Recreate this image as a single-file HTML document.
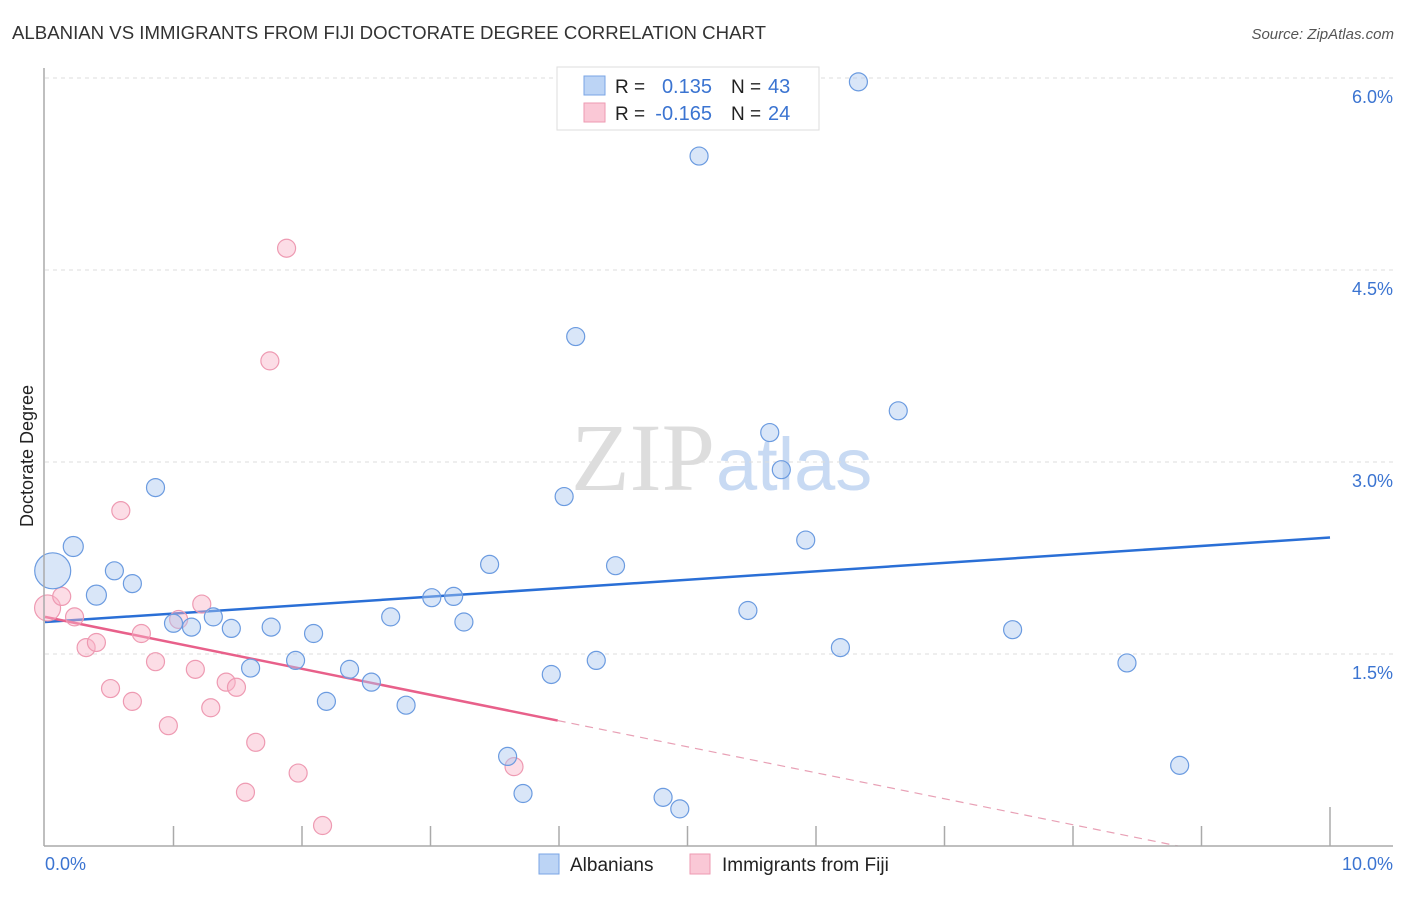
<!DOCTYPE html>
<html><head><meta charset="utf-8"><style>
body{margin:0;background:#fff;font-family:"Liberation Sans",sans-serif;}
svg text{font-family:"Liberation Sans",sans-serif;}
</style></head><body>
<svg id="c" width="1406" height="892" viewBox="0 0 1406 892">
<text x="12" y="39" font-size="18" fill="#333" textLength="754" lengthAdjust="spacingAndGlyphs">ALBANIAN VS IMMIGRANTS FROM FIJI DOCTORATE DEGREE CORRELATION CHART</text>
<text x="1394" y="39" font-size="15" fill="#555" font-style="italic" text-anchor="end">Source: ZipAtlas.com</text>
<text x="715" y="490" font-size="96" fill="#ddd" text-anchor="end" style="font-family:'Liberation Serif',serif">ZIP</text>
<text x="716" y="490" font-size="74" fill="#c8daf3">atlas</text>
<text transform="translate(33,456) rotate(-90)" font-size="18" fill="#222" text-anchor="middle">Doctorate Degree</text>
<g id="grid"></g><g id="ticks"></g><g id="lines"></g><g id="pts"></g>
<line x1="44" y1="68" x2="44" y2="846" stroke="#aaa" stroke-width="1.5"/>
<line x1="44" y1="846" x2="1393" y2="846" stroke="#aaa" stroke-width="1.5"/>
<text x="45" y="870" font-size="18" fill="#3b74d1">0.0%</text>
<text x="1393" y="870" font-size="18" fill="#3b74d1" text-anchor="end">10.0%</text>
<g>
<rect x="557" y="67" width="262" height="63" fill="#fff" stroke="#ddd"/>
<rect x="584" y="76" width="21" height="19" fill="#bcd4f5" stroke="#7aa5e5"/>
<rect x="584" y="103" width="21" height="19" fill="#fac8d6" stroke="#ee9ab2"/>
<text x="615" y="93" font-size="19" fill="#222">R =</text><text x="712" y="93" font-size="20" fill="#3b74d1" text-anchor="end">0.135</text>
<text x="731" y="93" font-size="19" fill="#222">N =</text><text x="768" y="93" font-size="20" fill="#3b74d1">43</text>
<text x="615" y="120" font-size="19" fill="#222">R =</text><text x="712" y="120" font-size="20" fill="#3b74d1" text-anchor="end">-0.165</text>
<text x="731" y="120" font-size="19" fill="#222">N =</text><text x="768" y="120" font-size="20" fill="#3b74d1">24</text>
</g>
<g>
<rect x="539" y="854" width="20" height="20" fill="#bcd4f5" stroke="#7aa5e5"/>
<text x="570" y="871" font-size="19" fill="#222">Albanians</text>
<rect x="690" y="854" width="20" height="20" fill="#fac8d6" stroke="#ee9ab2"/>
<text x="722" y="871" font-size="19" fill="#222">Immigrants from Fiji</text>
</g>
</svg>
<script>
const yTicks=[1.5,3.0,4.5,6.0];
const yTickLabels=["1.5%","3.0%","4.5%","6.0%"];
const xTicks=[1,2,3,4,5,6,7,8,9,10];
const blueX=[0.06,0.22,0.86,0.54,0.40,0.68,1.00,1.14,1.31,1.45,1.60,1.76,1.95,2.09,2.19,2.37,2.54,2.69,2.81,3.01,3.18,3.26,3.46,3.60,3.72,3.94,4.04,4.13,4.29,4.44,4.81,4.94,5.09,5.47,5.64,5.73,5.92,6.19,6.33,6.64,7.53,8.42,8.83];
const blueY=[2.15,2.34,2.80,2.15,1.96,2.05,1.74,1.71,1.79,1.70,1.39,1.71,1.45,1.66,1.13,1.38,1.28,1.79,1.10,1.94,1.95,1.75,2.20,0.70,0.41,1.34,2.73,3.98,1.45,2.19,0.38,0.29,5.39,1.84,3.23,2.94,2.39,1.55,5.97,3.40,1.69,1.43,0.63];
const blueR=[18,10,9,9,10,9,9,9,9,9,9,9,9,9,9,9,9,9,9,9,9,9,9,9,9,9,9,9,9,9,9,9,9,9,9,9,9,9,9,9,9,9,9];
const pinkX=[0.02,0.13,0.23,0.32,0.40,0.51,0.59,0.68,0.75,0.86,0.96,1.04,1.17,1.22,1.29,1.41,1.49,1.56,1.64,1.75,1.88,1.97,2.16,3.65];
const pinkY=[1.86,1.95,1.79,1.55,1.59,1.23,2.62,1.13,1.66,1.44,0.94,1.77,1.38,1.89,1.08,1.28,1.24,0.42,0.81,3.79,4.67,0.57,0.16,0.62];
const pinkR=[13,9,9,9,9,9,9,9,9,9,9,9,9,9,9,9,9,9,9,9,9,9,9,9];
const blueTrend=[1.75,0.066];
const pinkTrend=[1.79,-0.203];
const pinkSolidEnd=3.99;
const NS="http://www.w3.org/2000/svg";
const X=v=>45+v*128.5, Y=v=>846-v*128;
function mk(t,a,p){const e=document.createElementNS(NS,t);for(const k in a)e.setAttribute(k,a[k]);document.getElementById(p).appendChild(e);return e;}
yTicks.forEach((t,i)=>{
 const l=mk('line',{x1:45,x2:1393,y1:Y(t),y2:Y(t),stroke:'#ddd','stroke-dasharray':'4,4'},'grid');
 
 
 const tx=mk('text',{x:1393,y:Y(t)+25,'font-size':18,fill:'#3b74d1','text-anchor':'end'},'grid');
 tx.textContent=yTickLabels[i];
 
 
});
xTicks.forEach(t=>{
 const l=mk('line',{x1:X(t),x2:X(t),y1:t==10?807:826,y2:846,stroke:'#aaa','stroke-width':1.5},'ticks');
 
 
});
function pts(xs,ys,rs,fill,stroke,name){xs.forEach((x,i)=>{
 const c=mk('circle',{cx:X(x),cy:Y(ys[i]),r:rs[i],fill:fill,stroke:stroke,'stroke-width':1.2},'pts');
 
 
});}
pts(pinkX,pinkY,pinkR,'rgba(248,180,200,0.45)','#ee9ab2','fiji-point');
pts(blueX,blueY,blueR,'rgba(170,200,240,0.45)','#6b9be0','albanian-point');
let l=mk('line',{x1:X(0),y1:Y(blueTrend[0]),x2:X(10),y2:Y(blueTrend[0]+10*blueTrend[1]),stroke:'#2a6fd6','stroke-width':2.5},'lines');


l=mk('line',{x1:X(0),y1:Y(pinkTrend[0]),x2:X(pinkSolidEnd),y2:Y(pinkTrend[0]+pinkSolidEnd*pinkTrend[1]),stroke:'#e8608a','stroke-width':2.5},'lines');


const xe=-pinkTrend[0]/pinkTrend[1];
l=mk('line',{x1:X(pinkSolidEnd),y1:Y(pinkTrend[0]+pinkSolidEnd*pinkTrend[1]),x2:X(xe),y2:Y(0),stroke:'#e8a0b5','stroke-width':1.2,'stroke-dasharray':'8,6'},'lines');


</script>
</body></html>
